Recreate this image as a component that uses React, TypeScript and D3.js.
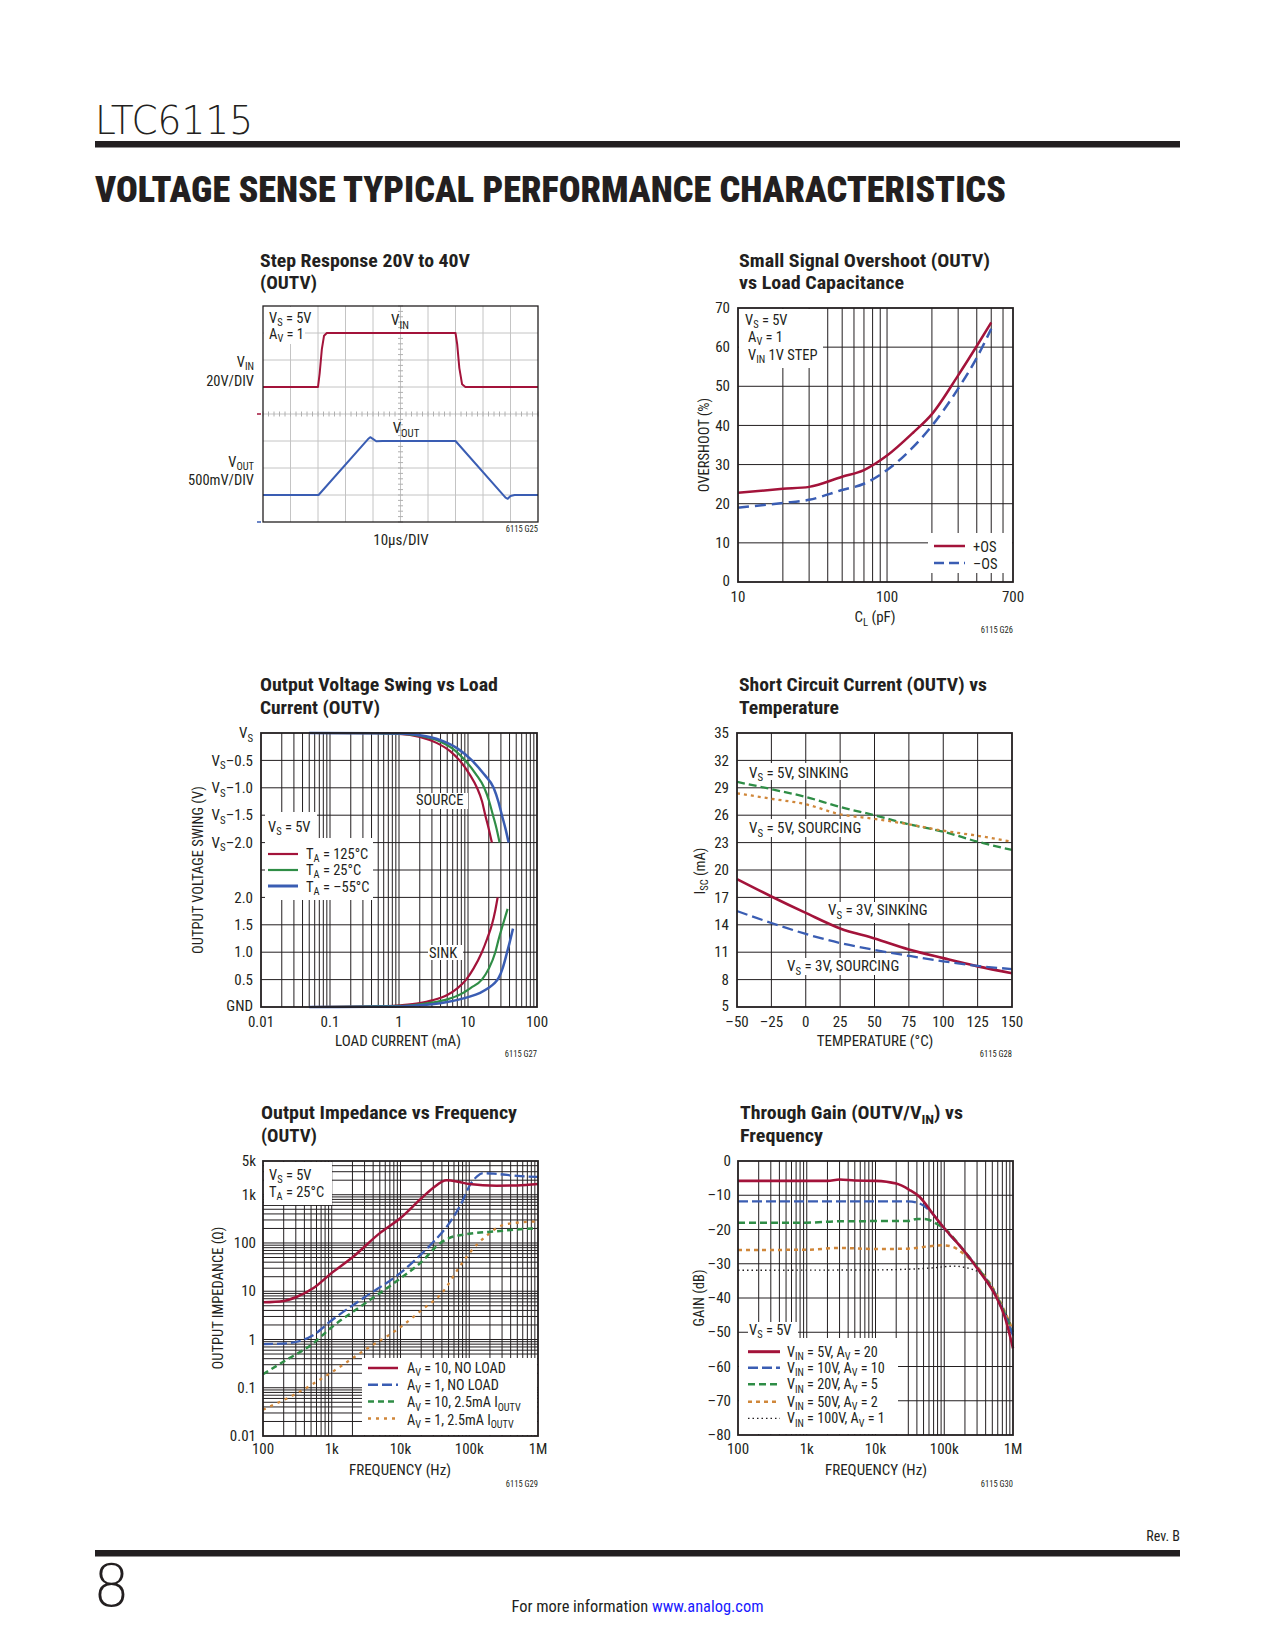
import React from 'react';
import * as d3 from 'd3';

type Pt = [number, number];

const FONT = "'Liberation Sans Narrow','Arial Narrow','Roboto Condensed','DejaVu Sans Condensed',sans-serif";
const INK = '#231f20';
const RED = '#a3133a';
const BLUE = '#3a5db3';
const GREEN = '#2f8d46';
const ORANGE = '#d0873a';

// ---------- data ----------
// step response, in scope divisions (x: 0-10, y: 0-8 from bottom)
const stepVin: Pt[] = [[0, 5], [2.0, 5], [2.06, 5.5], [2.14, 6.4], [2.22, 6.9], [2.32, 7], [7.0, 7], [7.06, 6.6], [7.14, 5.7], [7.24, 5.1], [7.36, 5], [10, 5]];
const stepVout: Pt[] = [[0, 1], [2.02, 1], [3.82, 3.07], [3.9, 3.14], [3.98, 3.09], [4.12, 2.99], [4.35, 3.0], [7.0, 3.0], [8.82, 0.9], [8.9, 0.86], [9.0, 0.96], [9.15, 1.0], [10, 1]];

// overshoot vs load capacitance
const clPf = [10, 20, 30, 50, 70, 100, 150, 200, 300, 400, 500];
const overshootPos = [22.8, 23.8, 24.3, 26.9, 28.6, 32.3, 38.2, 42.9, 52.8, 60.3, 66.3];
const overshootNeg = [19.0, 20.2, 21.0, 23.5, 25.1, 28.6, 34.5, 39.9, 49.4, 57.3, 64.7];

// output swing vs load current (mA, V with VS = 5V)
const srcHot: Pt[] = [[0.05, 5], [0.5, 4.995], [1, 4.985], [2, 4.93], [3.5, 4.82], [5.5, 4.67], [7.55, 4.5], [10.5, 4.25], [13.5, 4.0], [16, 3.75], [17.8, 3.5], [20, 3.25], [22.2, 3.0]];
const srcRoom: Pt[] = [[0.05, 5], [0.5, 4.995], [1, 4.99], [2, 4.95], [4, 4.84], [6.5, 4.68], [9.1, 4.5], [13, 4.25], [17.2, 4.0], [20.3, 3.75], [23, 3.5], [26, 3.25], [28.7, 3.0]];
const srcCold: Pt[] = [[0.05, 5], [0.5, 4.995], [1, 4.99], [2, 4.96], [4, 4.87], [7, 4.72], [11.4, 4.5], [17, 4.25], [23.5, 4.0], [27.5, 3.75], [31, 3.5], [35, 3.25], [38.8, 3.0]];
const sinkHot: Pt[] = [[0.05, 0], [0.5, 0.01], [1, 0.03], [2, 0.07], [3, 0.12], [5, 0.22], [7, 0.34], [9.4, 0.5], [12, 0.7], [15.9, 1.0], [19, 1.25], [22.2, 1.5], [25, 1.78], [26.9, 2.0]];
const sinkRoom: Pt[] = [[0.05, 0], [1, 0.02], [2, 0.05], [3, 0.08], [5, 0.14], [8, 0.24], [11, 0.35], [15.9, 0.5], [20, 0.7], [24.9, 1.0], [28, 1.25], [32, 1.5], [37.5, 1.79]];
const sinkCold: Pt[] = [[0.05, 0], [1, 0.01], [2, 0.03], [3, 0.05], [5, 0.09], [10, 0.18], [15, 0.26], [20, 0.35], [24, 0.43], [27.8, 0.53], [32, 0.72], [36, 0.95], [40, 1.17], [44.9, 1.43]];

// short circuit current vs temperature
const tempC = [-50, -25, 0, 25, 50, 75, 100, 125, 150];
const isc5Sink = [29.65, 28.85, 28.0, 26.9, 26.0, 25.0, 24.2, 23.1, 22.2];
const isc5Source = [28.4, 27.8, 27.2, 26.1, 25.6, 25.0, 24.3, 23.75, 23.1];
const isc3Sink = [19.0, 17.1, 15.3, 13.6, 12.5, 11.3, 10.35, 9.45, 8.7];
const isc3Source = [15.5, 14.2, 13.0, 12.0, 11.25, 10.6, 10.0, 9.5, 9.15];

// output impedance vs frequency (Hz, ohm)
const zAv10: Pt[] = [[100, 5.9], [200, 6.3], [300, 7.5], [535, 11.5], [1000, 24], [2050, 52], [5000, 160], [10000, 330], [19200, 790], [30000, 1400], [47000, 1990], [70000, 1850], [100000, 1660], [250000, 1540], [500000, 1560], [1000000, 1670]];
const zAv1: Pt[] = [[100, 0.8], [220, 0.83], [535, 1.23], [1000, 2.5], [3000, 7.5], [10000, 24], [30000, 105], [45000, 200], [60000, 360], [80000, 750], [100000, 1500], [130000, 2400], [160000, 2800], [250000, 2700], [500000, 2450], [1000000, 2330]];
const zAv10Load: Pt[] = [[100, 0.19], [200, 0.35], [535, 0.83], [1000, 1.8], [3000, 5.5], [10000, 18.5], [20000, 40], [37700, 99], [50000, 125], [100000, 155], [250000, 175], [500000, 190], [1000000, 203]];
const zAv1Load: Pt[] = [[100, 0.035], [300, 0.075], [1000, 0.21], [3000, 0.6], [10000, 1.8], [20000, 4], [42000, 10], [70000, 30], [100000, 61], [180000, 143], [316000, 238], [600000, 270], [1000000, 279]];

// through gain vs frequency (Hz, dB)
const gAv20: Pt[] = [[100, -5.8], [2000, -5.8], [3000, -5.4], [5000, -5.7], [10000, -5.8], [20000, -6.6], [31000, -8.4], [44000, -10.5], [68000, -15.4], [96000, -19.2], [190000, -26], [330000, -32.4], [570000, -39.7], [760000, -45.5], [1000000, -54.7]];
const gAv10: Pt[] = [[100, -11.8], [30000, -11.8], [44000, -12.4], [60000, -14.3], [80000, -17.2], [96000, -19.3], [190000, -26], [330000, -32.3], [570000, -39.5], [760000, -45], [1000000, -51]];
const gAv5: Pt[] = [[100, -18], [1000, -18], [3000, -17.6], [30000, -17.5], [40000, -16.9], [55000, -17], [77000, -18.3], [96000, -19.4], [190000, -26], [330000, -32], [570000, -39.2], [760000, -44.5], [1000000, -50]];
const gAv2: Pt[] = [[100, -26], [1000, -25.9], [3000, -25.4], [10000, -25.7], [30000, -25.6], [60000, -24.9], [96000, -24.6], [134000, -25.1], [190000, -27], [330000, -31.8], [570000, -38.8], [760000, -44], [1000000, -49.5]];
const gAv1: Pt[] = [[100, -31.9], [10000, -31.8], [30000, -31.6], [68000, -31.2], [134000, -30.7], [234000, -31.4], [330000, -32.7], [570000, -39], [760000, -44], [1000000, -49]];

// ---------- helpers ----------
function Rich(props: any) {
  const { x, y, text, size = 15, anchor = 'start', weight = 'normal', fill = INK, rotate = false, len } = props;
  const parts: string[] = text.split(/(_\{[^}]*\})/).filter((p: string) => p !== '');
  const sh = size * 0.24;
  let down = false;
  const spans = parts.map((p, i) => {
    if (p.startsWith('_{')) {
      const s = <tspan key={i} fontSize={size * 0.72} dy={down ? 0 : sh}>{p.slice(2, -1)}</tspan>;
      down = true;
      return s;
    }
    const s = <tspan key={i} dy={down ? -sh : 0}>{p}</tspan>;
    down = false;
    return s;
  });
  return (
    <text x={x} y={y} fontSize={size} textAnchor={anchor} fontWeight={weight} fill={fill} fontFamily={FONT}
      transform={rotate ? `rotate(-90 ${x} ${y})` : undefined}
      textLength={len} lengthAdjust={len ? 'spacingAndGlyphs' : undefined}>
      {spans}
    </text>
  );
}

function Title({ x, y, lines }: { x: number; y: number; lines: [string, number][] }) {
  return (
    <g>
      {lines.map(([t, len], i) => (
        <Rich key={i} x={x} y={y + i * 22.5} text={t} size={19} weight="bold" len={len} />
      ))}
    </g>
  );
}

function VLines({ xs, y0, y1, stroke = INK, w = 1 }: any) {
  return <g>{xs.map((x: number, i: number) => <line key={i} x1={x} x2={x} y1={y0} y2={y1} stroke={stroke} strokeWidth={w} />)}</g>;
}
function HLines({ ys, x0, x1, stroke = INK, w = 1 }: any) {
  return <g>{ys.map((y: number, i: number) => <line key={i} x1={x0} x2={x1} y1={y} y2={y} stroke={stroke} strokeWidth={w} />)}</g>;
}
function Blank({ r }: { r: number[][] }) {
  return <g>{r.map(([x, y, w, h], i) => <rect key={i} x={x} y={y} width={w} height={h} fill="#fff" />)}</g>;
}
function Frame({ x0, y0, x1, y1, w = 1.8 }: any) {
  return <rect x={x0} y={y0} width={x1 - x0} height={y1 - y0} fill="none" stroke={INK} strokeWidth={w} />;
}
function Code({ x, y, t }: any) {
  return <text x={x} y={y} fontSize={8.5} textAnchor="end" fontFamily={FONT} fill={INK}>{t}</text>;
}

const inner = (ticks: number[], lo: number, hi: number) => ticks.filter(t => t > lo * 1.0001 && t < hi * 0.9999);

// ---------- charts ----------
function StepChart() {
  const x = d3.scaleLinear().domain([0, 10]).range([263, 538]);
  const y = d3.scaleLinear().domain([0, 8]).range([522, 306]);
  const line = d3.line<Pt>().x(d => x(d[0])).y(d => y(d[1]));
  const gx = d3.range(1, 10).map(x);
  const gy = d3.range(1, 8).map(y);
  const minorX = d3.range(0, 51).map(i => x(i / 5));
  const minorY = d3.range(0, 41).map(i => y(i / 5));
  return (
    <g>
      <Title x={260} y={266.5} lines={[['Step Response 20V to 40V', 210], ['(OUTV)', 57]]} />
      <VLines xs={gx} y0={306} y1={522} stroke="#c4c4c4" />
      <HLines ys={gy} x0={263} x1={538} stroke="#c4c4c4" />
      {minorX.map((v, i) => <line key={'a' + i} x1={v} x2={v} y1={y(4) - 2.5} y2={y(4) + 2.5} stroke="#b0b0b0" />)}
      {minorY.map((v, i) => <line key={'b' + i} x1={x(5) - 2.5} x2={x(5) + 2.5} y1={v} y2={v} stroke="#b0b0b0" />)}
      <Blank r={[[264, 307, 41, 37]]} />
      <path d={line(stepVin) || ''} fill="none" stroke={RED} strokeWidth={2} strokeLinejoin="round" />
      <path d={line(stepVout) || ''} fill="none" stroke={BLUE} strokeWidth={2} strokeLinejoin="round" />
      <Frame x0={263} y0={306} x1={538} y1={522} w={1.3} />
      <line x1={257} x2={261} y1={y(4)} y2={y(4)} stroke={RED} strokeWidth={1.5} />
      <line x1={257} x2={261} y1={y(0)} y2={y(0)} stroke={BLUE} strokeWidth={1.5} />
      <Rich x={269} y={322.5} text="V_{S} = 5V" size={14.5} />
      <Rich x={269} y={339} text="A_{V} = 1" size={14.5} />
      <Rich x={400} y={325} text="V_{IN}" anchor="middle" />
      <Rich x={406} y={433} text="V_{OUT}" anchor="middle" />
      <Rich x={254} y={367} text="V_{IN}" anchor="end" size={14.5} />
      <Rich x={254} y={385.5} text="20V/DIV" anchor="end" size={14.5} />
      <Rich x={254} y={466.5} text="V_{OUT}" anchor="end" size={14.5} />
      <Rich x={254} y={485} text="500mV/DIV" anchor="end" size={14.5} />
      <Rich x={401} y={545} text="10μs/DIV" anchor="middle" />
      <Code x={538} y={532} t="6115 G25" />
    </g>
  );
}

function OvershootChart() {
  const [x0, x1, y0, y1] = [738, 1013, 308, 582];
  const x = d3.scaleLog().domain([10, 700]).range([x0, x1]);
  const y = d3.scaleLinear().domain([0, 70]).range([y1, y0]);
  const line = d3.line<number>().x((d, i) => x(clPf[i])).y(d => y(d)).curve(d3.curveMonotoneX);
  return (
    <g>
      <Title x={739} y={266.5} lines={[['Small Signal Overshoot (OUTV)', 251], ['vs Load Capacitance', 165]]} />
      <VLines xs={inner(x.ticks(), 10, 700).map(x)} y0={y0} y1={y1} />
      <HLines ys={d3.range(10, 70, 10).map(y)} x0={x0} x1={x1} />
      <Blank r={[[739, 309, 84, 59], [928, 533, 84, 40]]} />
      <path d={line(overshootPos) || ''} fill="none" stroke={RED} strokeWidth={2.5} />
      <path d={line(overshootNeg) || ''} fill="none" stroke={BLUE} strokeWidth={2.5} strokeDasharray="11 6" />
      <Frame x0={x0} y0={y0} x1={x1} y1={y1} />
      <Rich x={745} y={325} text="V_{S} = 5V" size={14.5} />
      <Rich x={748} y={341.5} text="A_{V} = 1" size={14.5} />
      <Rich x={748} y={359.5} text="V_{IN} 1V STEP" size={14.5} />
      <line x1={934} x2={965} y1={546} y2={546} stroke={RED} strokeWidth={2.5} />
      <line x1={934} x2={965} y1={563} y2={563} stroke={BLUE} strokeWidth={2.5} strokeDasharray="10 5" />
      <Rich x={973} y={551.5} text="+OS" size={14.5} />
      <Rich x={973} y={568.5} text="–OS" size={14.5} />
      {d3.range(0, 71, 10).map(v => <Rich key={v} x={730} y={y(v) + (v === 0 ? 3.5 : 5.2)} text={String(v)} anchor="end" />)}
      {[10, 100, 700].map(v => <Rich key={v} x={x(v)} y={601.5} text={String(v)} anchor="middle" />)}
      <Rich x={709} y={445} text="OVERSHOOT (%)" anchor="middle" rotate size={14.5} />
      <Rich x={875} y={622} text="C_{L}  (pF)" anchor="middle" />
      <Code x={1013} y={633} t="6115 G26" />
    </g>
  );
}

function SwingChart() {
  const [x0, x1, y0, y1] = [261, 537, 733, 1007];
  const x = d3.scaleLog().domain([0.01, 100]).range([x0, x1]);
  const y = d3.scaleLinear().domain([0, 5]).range([y1, y0]);
  const line = d3.line<Pt>().x(d => x(d[0])).y(d => y(d[1])).curve(d3.curveMonotoneX);
  const series: [Pt[], string, number][] = [
    [srcHot, RED, 2.2], [srcRoom, GREEN, 2.2], [srcCold, BLUE, 2.5],
    [sinkHot, RED, 2.2], [sinkRoom, GREEN, 2.2], [sinkCold, BLUE, 2.5],
  ];
  const yLabels: [number, string][] = [[5, 'V_{S}'], [4.5, 'V_{S}–0.5'], [4, 'V_{S}–1.0'], [3.5, 'V_{S}–1.5'], [3, 'V_{S}–2.0'],
    [2, '2.0'], [1.5, '1.5'], [1, '1.0'], [0.5, '0.5'], [0, 'GND']];
  return (
    <g>
      <Title x={260} y={691} lines={[['Output Voltage Swing vs Load', 238], ['Current (OUTV)', 120]]} />
      <VLines xs={inner(x.ticks(), 0.01, 100).map(x)} y0={y0} y1={y1} />
      <HLines ys={d3.range(0.5, 5, 0.5).map(y)} x0={x0} x1={x1} />
      <Blank r={[[265, 812, 52, 26], [265, 838, 108, 62], [413, 793, 55, 16], [428, 945, 35, 15]]} />
      {series.map(([d, c, w], i) => <path key={i} d={line(d) || ''} fill="none" stroke={c} strokeWidth={w} />)}
      <Frame x0={x0} y0={y0} x1={x1} y1={y1} />
      <Rich x={268} y={831.5} text="V_{S} = 5V" size={14.5} />
      <line x1={268} x2={298} y1={854} y2={854} stroke={RED} strokeWidth={2.2} />
      <line x1={268} x2={298} y1={870} y2={870} stroke={GREEN} strokeWidth={2.2} />
      <line x1={268} x2={298} y1={886} y2={886} stroke={BLUE} strokeWidth={3} />
      <Rich x={306} y={858.5} text="T_{A} = 125°C" size={14.5} />
      <Rich x={306} y={875} text="T_{A} = 25°C" size={14.5} />
      <Rich x={306} y={891.5} text="T_{A} = –55°C" size={14.5} />
      <Rich x={416} y={804.5} text="SOURCE" size={14.5} />
      <Rich x={429} y={958} text="SINK" size={14.5} />
      {yLabels.map(([v, t]) => <Rich key={t} x={253} y={y(v) + (v === 0 ? 3.5 : 5.2)} text={t} anchor="end" />)}
      {[0.01, 0.1, 1, 10, 100].map(v => <Rich key={v} x={x(v)} y={1026.5} text={String(v)} anchor="middle" />)}
      <Rich x={203} y={870} text="OUTPUT VOLTAGE SWING (V)" anchor="middle" rotate size={14.5} />
      <Rich x={398} y={1046} text="LOAD CURRENT (mA)" anchor="middle" />
      <Code x={537} y={1057} t="6115 G27" />
    </g>
  );
}

function IscChart() {
  const [x0, x1, y0, y1] = [737, 1012, 733, 1007];
  const x = d3.scaleLinear().domain([-50, 150]).range([x0, x1]);
  const y = d3.scaleLinear().domain([5, 35]).range([y1, y0]);
  const line = d3.line<number>().x((d, i) => x(tempC[i])).y(d => y(d)).curve(d3.curveMonotoneX);
  const fmt = (v: number) => (v < 0 ? '–' + Math.abs(v) : String(v));
  return (
    <g>
      <Title x={739} y={691} lines={[['Short Circuit Current (OUTV) vs', 248], ['Temperature', 100]]} />
      <VLines xs={d3.range(-25, 150, 25).map(x)} y0={y0} y1={y1} />
      <HLines ys={d3.range(8, 35, 3).map(y)} x0={x0} x1={x1} />
      <Blank r={[[747, 763, 108, 17], [747, 819, 120, 18], [827, 902, 105, 21], [785, 958, 119, 17]]} />
      <path d={line(isc5Sink) || ''} fill="none" stroke={GREEN} strokeWidth={2.3} strokeDasharray="8 4" />
      <path d={line(isc5Source) || ''} fill="none" stroke={ORANGE} strokeWidth={2.3} strokeDasharray="3 4" />
      <path d={line(isc3Sink) || ''} fill="none" stroke={RED} strokeWidth={2.6} />
      <path d={line(isc3Source) || ''} fill="none" stroke={BLUE} strokeWidth={2.3} strokeDasharray="11 5" />
      <Frame x0={x0} y0={y0} x1={x1} y1={y1} />
      <Rich x={749} y={777.5} text="V_{S} = 5V, SINKING" />
      <Rich x={749} y={833} text="V_{S} = 5V, SOURCING" />
      <Rich x={828} y={915} text="V_{S} = 3V, SINKING" />
      <Rich x={787} y={971} text="V_{S} = 3V, SOURCING" />
      {d3.range(5, 36, 3).map(v => <Rich key={v} x={729} y={y(v) + (v === 5 ? 3.5 : 5.2)} text={String(v)} anchor="end" />)}
      {d3.range(-50, 151, 25).map(v => <Rich key={v} x={x(v)} y={1026.5} text={fmt(v)} anchor="middle" />)}
      <Rich x={705} y={871} text="I_{SC} (mA)" anchor="middle" rotate size={14.5} />
      <Rich x={875} y={1045.5} text="TEMPERATURE (°C)" anchor="middle" />
      <Code x={1012} y={1057} t="6115 G28" />
    </g>
  );
}

function ZoutChart() {
  const [x0, x1, y0, y1] = [263, 538, 1161, 1436];
  const x = d3.scaleLog().domain([100, 1e6]).range([x0, x1]);
  const y = d3.scaleLog().domain([0.01, 5000]).range([y1, y0]);
  const line = d3.line<Pt>().x(d => x(d[0])).y(d => y(d[1])).curve(d3.curveMonotoneX);
  const yLabels: [number, string][] = [[5000, '5k'], [1000, '1k'], [100, '100'], [10, '10'], [1, '1'], [0.1, '0.1'], [0.01, '0.01']];
  const xLabels: [number, string][] = [[100, '100'], [1e3, '1k'], [1e4, '10k'], [1e5, '100k'], [1e6, '1M']];
  const legend: [string, string, string][] = [
    ['A_{V} = 10, NO LOAD', RED, ''], ['A_{V} = 1, NO LOAD', BLUE, '10 4'],
    ['A_{V} = 10, 2.5mA I_{OUTV}', GREEN, '6 4'], ['A_{V} = 1, 2.5mA I_{OUTV}', ORANGE, '3 5'],
  ];
  return (
    <g>
      <Title x={261} y={1119} lines={[['Output Impedance vs Frequency', 256], ['(OUTV)', 56]]} />
      <VLines xs={inner(x.ticks(), 100, 1e6).map(x)} y0={y0} y1={y1} />
      <HLines ys={inner(y.ticks(), 0.01, 5000).map(y)} x0={x0} x1={x1} />
      <Blank r={[[264, 1162, 68, 43], [362, 1358, 175, 77]]} />
      <path d={line(zAv1Load) || ''} fill="none" stroke={ORANGE} strokeWidth={2.3} strokeDasharray="3 5" />
      <path d={line(zAv10Load) || ''} fill="none" stroke={GREEN} strokeWidth={2.5} strokeDasharray="6 4" />
      <path d={line(zAv1) || ''} fill="none" stroke={BLUE} strokeWidth={2.3} strokeDasharray="10 4" />
      <path d={line(zAv10) || ''} fill="none" stroke={RED} strokeWidth={2.5} />
      <Frame x0={x0} y0={y0} x1={x1} y1={y1} />
      <Rich x={269} y={1180} text="V_{S} = 5V" size={14.5} />
      <Rich x={269} y={1196.5} text="T_{A} = 25°C" size={14.5} />
      {legend.map(([t, c, dash], i) => (
        <g key={t}>
          <line x1={368} x2={398} y1={1368 + i * 16.8} y2={1368 + i * 16.8} stroke={c} strokeWidth={2.5} strokeDasharray={dash || undefined} />
          <Rich x={407} y={1372.5 + i * 17.4} text={t} size={14.2} />
        </g>
      ))}
      {yLabels.map(([v, t]) => <Rich key={t} x={256} y={y(v) + 5.2} text={t} anchor="end" />)}
      {xLabels.map(([v, t]) => <Rich key={t} x={x(v)} y={1453.5} text={t} anchor="middle" />)}
      <Rich x={223} y={1298} text="OUTPUT IMPEDANCE (Ω)" anchor="middle" rotate size={14.5} />
      <Rich x={400} y={1474.5} text="FREQUENCY (Hz)" anchor="middle" />
      <Code x={538} y={1487} t="6115 G29" />
    </g>
  );
}

function GainChart() {
  const [x0, x1, y0, y1] = [738, 1013, 1161, 1435];
  const x = d3.scaleLog().domain([100, 1e6]).range([x0, x1]);
  const y = d3.scaleLinear().domain([-80, 0]).range([y1, y0]);
  const line = d3.line<Pt>().x(d => x(d[0])).y(d => y(d[1])).curve(d3.curveMonotoneX);
  const xLabels: [number, string][] = [[100, '100'], [1e3, '1k'], [1e4, '10k'], [1e5, '100k'], [1e6, '1M']];
  const legend: [string, string, string, number][] = [
    ['V_{IN} = 5V, A_{V} = 20', RED, '', 3],
    ['V_{IN} = 10V, A_{V} = 10', BLUE, '10 4', 2.4],
    ['V_{IN} = 20V, A_{V} = 5', GREEN, '7 4', 2.6],
    ['V_{IN} = 50V, A_{V} = 2', ORANGE, '4 4', 2.6],
    ['V_{IN} = 100V, A_{V} = 1', INK, '1.5 3', 1.3],
  ];
  const legendY = [1351.7, 1367.7, 1384.3, 1401.7, 1418.3];
  return (
    <g>
      <Title x={740} y={1119} lines={[['Through Gain (OUTV/V_{IN}) vs', 223], ['Frequency', 83]]} />
      <VLines xs={inner(x.ticks(), 100, 1e6).map(x)} y0={y0} y1={y1} />
      <HLines ys={d3.range(-70, 0, 10).map(y)} x0={x0} x1={x1} />
      <Blank r={[[748, 1322, 50, 16], [739, 1338, 159, 96]]} />
      <path d={line(gAv1) || ''} fill="none" stroke={INK} strokeWidth={1.4} strokeDasharray="1.5 3" />
      <path d={line(gAv2) || ''} fill="none" stroke={ORANGE} strokeWidth={2.5} strokeDasharray="4 4" />
      <path d={line(gAv5) || ''} fill="none" stroke={GREEN} strokeWidth={2.5} strokeDasharray="7 4" />
      <path d={line(gAv10) || ''} fill="none" stroke={BLUE} strokeWidth={2.3} strokeDasharray="10 4" />
      <path d={line(gAv20) || ''} fill="none" stroke={RED} strokeWidth={2.6} />
      <Frame x0={x0} y0={y0} x1={x1} y1={y1} />
      <Rich x={749} y={1335} text="V_{S} = 5V" size={14.5} />
      {legend.map(([t, c, dash, w], i) => (
        <g key={t}>
          <line x1={748} x2={780} y1={legendY[i]} y2={legendY[i]} stroke={c} strokeWidth={w} strokeDasharray={dash || undefined} />
          <Rich x={787} y={legendY[i] + 5} text={t} size={14.2} />
        </g>
      ))}
      {d3.range(-80, 1, 10).map(v => <Rich key={v} x={731} y={y(v) + 5.2} text={v < 0 ? '–' + Math.abs(v) : '0'} anchor="end" />)}
      {xLabels.map(([v, t]) => <Rich key={t} x={x(v)} y={1453.5} text={t} anchor="middle" />)}
      <Rich x={704} y={1298} text="GAIN (dB)" anchor="middle" rotate size={14.5} />
      <Rich x={876} y={1474.5} text="FREQUENCY (Hz)" anchor="middle" />
      <Code x={1013} y={1487} t="6115 G30" />
    </g>
  );
}

export default function App() {
  return (
    <>
      <style>{'body{margin:0}'}</style>
      <svg width={1275} height={1650} style={{ display: 'block', background: '#fff' }}>
        <rect width={1275} height={1650} fill="#fff" />
        <text x={95} y={133.5} fontSize={39} fontFamily="'DejaVu Sans','Noto Sans',sans-serif" fontWeight={200}
          textLength={158} lengthAdjust="spacingAndGlyphs" fill={INK}>LTC6115</text>
        <rect x={95} y={141} width={1085} height={6.5} fill={INK} />
        <text x={95} y={202} fontSize={36} fontFamily={FONT} fontWeight={900} textLength={911}
          lengthAdjust="spacingAndGlyphs" fill={INK}>VOLTAGE SENSE TYPICAL PERFORMANCE CHARACTERISTICS</text>

        <StepChart />
        <OvershootChart />
        <SwingChart />
        <IscChart />
        <ZoutChart />
        <GainChart />

        <text x={1180} y={1541} fontSize={14} textAnchor="end" fontFamily={FONT} fill={INK}>Rev. B</text>
        <rect x={95} y={1550} width={1085} height={6.5} fill={INK} />
        <text x={93} y={1606} fontSize={58} fontFamily="'DejaVu Sans','Noto Sans',sans-serif" fontWeight={200} fill={INK}>8</text>
        <text x={637.5} y={1612} fontSize={16.5} textAnchor="middle" fontFamily={FONT} fill={INK}
          textLength={252} lengthAdjust="spacingAndGlyphs">
          For more information <tspan fill="#1a1aff">www.analog.com</tspan>
        </text>
      </svg>
    </>
  );
}
